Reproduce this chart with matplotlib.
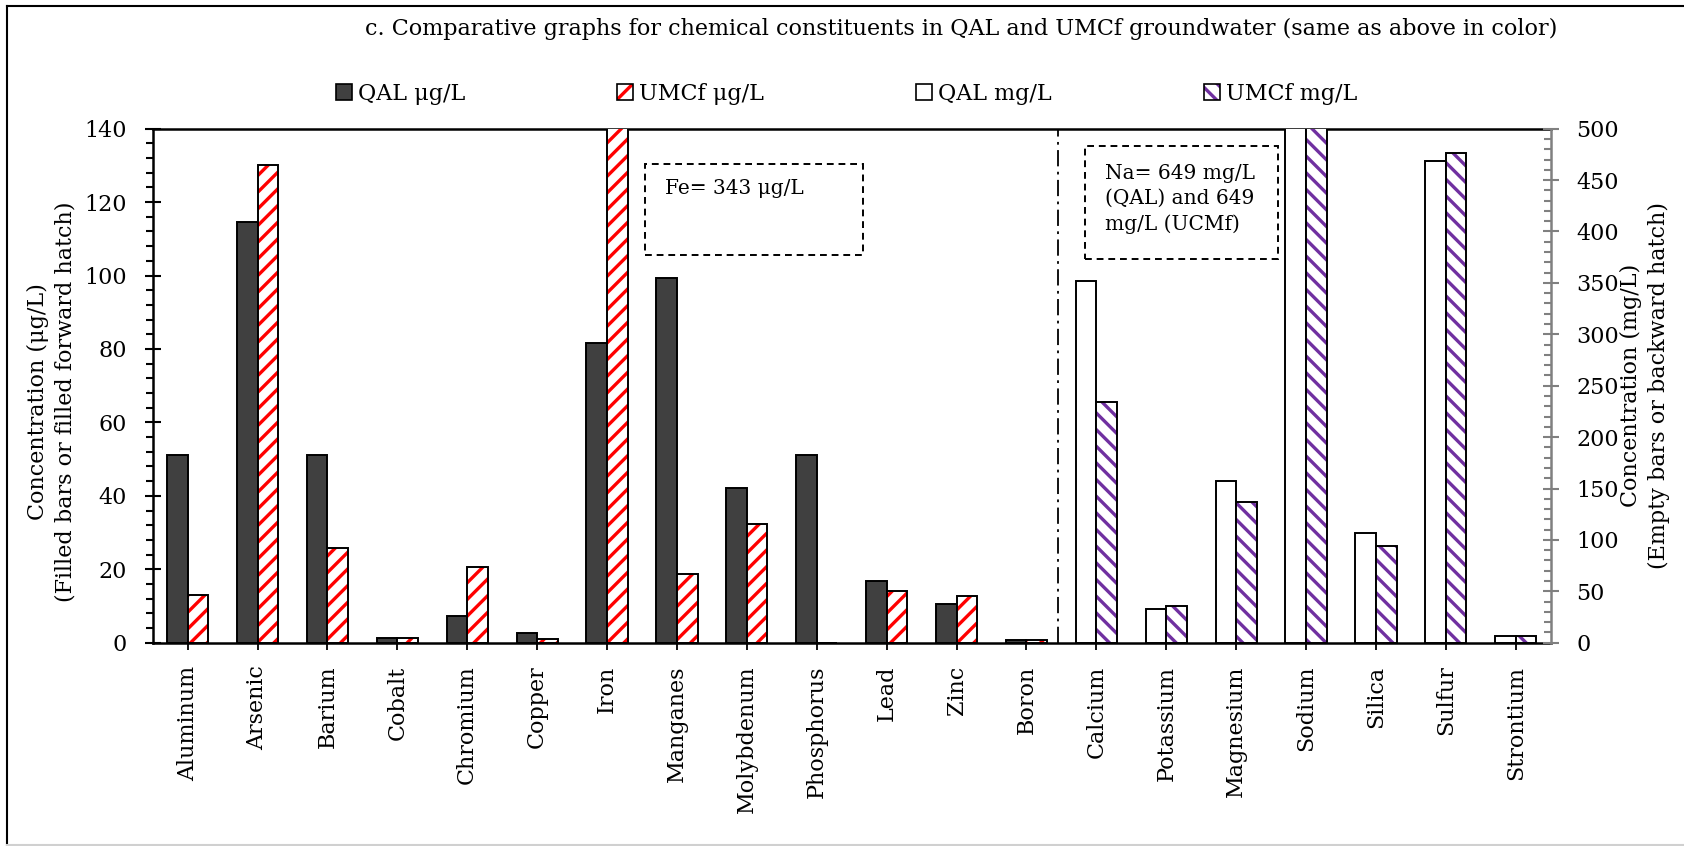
import matplotlib
matplotlib.use("Agg")
import matplotlib.pyplot as plt
import numpy as np
from matplotlib.patches import Patch, Rectangle
from matplotlib.lines import Line2D
from matplotlib.ticker import MultipleLocator
from matplotlib.legend_handler import HandlerTuple

# ---------------- data ----------------
categories_ug = ["Aluminum", "Arsenic", "Barium", "Cobalt", "Chromium", "Copper", "Iron",
                 "Manganes", "Molybdenum", "Phosphorus", "Lead", "Zinc", "Boron"]
qal_ug = [51.1, 114.5, 51.1, 1.4, 7.4, 2.7, 81.7, 99.3, 42.1, 51.1, 16.8, 10.5, 0.7]
umcf_ug = [12.9, 130.0, 25.9, 1.4, 20.7, 1.0, 343, 18.6, 32.4, 0, 14.0, 12.8, 0.6]

categories_mg = ["Calcium", "Potassium", "Magnesium", "Sodium", "Silica", "Sulfur", "Strontium"]
qal_mg = [351.5, 32.4, 156.9, 649, 106.7, 468.5, 6.8]
umcf_mg = [234.4, 35.3, 136.5, 649, 94.0, 476.7, 6.8]

legend_labels = ["QAL μg/L", "UMCf μg/L", "QAL mg/L", "UMCf mg/L"]
title = "c. Comparative graphs for chemical constituents in QAL and UMCf groundwater (same as above in color)"
left_label = "Concentration (μg/L)\n(Filled bars or filled forward hatch)"
right_label = "Concentration (mg/L)\n(Empty bars or backward hatch)"
fe_note = "Fe= 343 μg/L"
na_note = "Na= 649 mg/L\n(QAL) and 649\nmg/L (UCMf)"

# ---------------- style ----------------
plt.rcParams['font.family'] = ['DejaVu Serif']
plt.rcParams['hatch.linewidth'] = 2.4
W, H = 1684, 846
DARK = "#404040"
RED = "#FF0000"
PURPLE = "#7030A0"
GRAY = "#808080"
FS = 16

def fx(x):
    return x / W

def fy(y):
    return 1 - y / H

fig = plt.figure(figsize=(W / 100, H / 100), dpi=100)
ax = fig.add_axes([fx(152.7), fy(642.7), (1550.7 - 152.7) / W, (642.7 - 128.7) / H])
ax2 = ax.twinx()

n_left = len(categories_ug)
x_left = np.arange(n_left)
x_right = np.arange(len(categories_mg)) + n_left
bw = 0.295

# left group (μg/L)
ax.bar(x_left - bw / 2, qal_ug, bw, color=DARK, edgecolor="black", linewidth=1.4, zorder=3)
ax.bar(x_left + bw / 2, umcf_ug, bw, color="white", edgecolor=RED, hatch="//", linewidth=0, zorder=3)
ax.bar(x_left + bw / 2, umcf_ug, bw, fill=False, edgecolor="black", linewidth=1.4, zorder=4)

# right group (mg/L)
ax2.bar(x_right - bw / 2, qal_mg, bw, color="white", edgecolor="black", linewidth=1.4, zorder=3)
ax2.bar(x_right + bw / 2, umcf_mg, bw, color="white", edgecolor=PURPLE, hatch="\\\\", linewidth=0, zorder=3)
ax2.bar(x_right + bw / 2, umcf_mg, bw, fill=False, edgecolor="black", linewidth=1.4, zorder=4)

ax.set_xlim(-0.5, n_left + len(categories_mg) - 0.5)
ax.set_ylim(0, 140)
ax2.set_ylim(0, 500)

# separator
ax.axvline(n_left - 0.55, color="black", lw=1.3, linestyle=(0, (9, 3, 1.5, 3)), zorder=2)

# x ticks
ax.set_xticks(np.concatenate([x_left, x_right]))
ax.set_xticklabels(categories_ug + categories_mg, rotation=90, fontsize=FS)
ax.tick_params(axis="x", direction="out", length=5, width=1.3, pad=11.5, colors="black")

# left y
ax.yaxis.set_major_locator(MultipleLocator(20))
ax.yaxis.set_minor_locator(MultipleLocator(4))
ax.tick_params(axis="y", which="major", direction="inout", length=11, width=1.5, pad=13, labelsize=FS)
ax.tick_params(axis="y", which="minor", direction="out", length=5, width=1.5)

# right y
ax2.yaxis.set_major_locator(MultipleLocator(50))
ax2.yaxis.set_minor_locator(MultipleLocator(10))
ax2.tick_params(axis="y", which="major", direction="inout", length=11, width=1.5, pad=13,
                labelsize=FS, color=GRAY, labelcolor="black")
ax2.tick_params(axis="y", which="minor", direction="in", length=5, width=1.5, color=GRAY)

for s in ["left", "bottom", "top"]:
    ax.spines[s].set_linewidth(1.8)
    ax.spines[s].set_color("black")
ax.spines["right"].set_visible(False)
for s in ["left", "bottom", "top"]:
    ax2.spines[s].set_visible(False)
ax2.spines["right"].set_color(GRAY)
ax2.spines["right"].set_linewidth(1.8)

# axis labels
fig.text(fx(51.5), fy(401.6), left_label, rotation=90, ha="center", va="center",
         multialignment="center", fontsize=FS, linespacing=1.35)
fig.text(fx(1644.5), fy(385), right_label, rotation=90, ha="center", va="center",
         multialignment="center", fontsize=FS, linespacing=1.35)

# title
fig.text(fx(961.5), fy(29), title, ha="center", va="center", fontsize=16)

# legend
h1 = Patch(facecolor=DARK, edgecolor="black", linewidth=1.2)
h2 = (Patch(facecolor="white", edgecolor=RED, hatch="//", linewidth=0),
      Patch(fill=False, edgecolor="black", linewidth=1.2))
h3 = Patch(facecolor="white", edgecolor="black", linewidth=1.2)
h4 = (Patch(facecolor="white", edgecolor=PURPLE, hatch="\\\\", linewidth=0),
      Patch(fill=False, edgecolor="black", linewidth=1.2))
fpx = FS * 100 / 72
leg = ax.legend([h1, h2, h3, h4], legend_labels, loc="center left",
                bbox_to_anchor=(fx(336), fy(94)), bbox_transform=fig.transFigure,
                ncol=4, frameon=False, borderpad=0, borderaxespad=0,
                handlelength=16 / fpx, handleheight=16 / fpx, handletextpad=6 / fpx,
                columnspacing=152 / fpx, fontsize=FS,
                handler_map={tuple: HandlerTuple(ndivide=1, pad=0)})

# annotation boxes
fig.add_artist(Rectangle((fx(645), fy(255.3)), (862.7 - 645) / W, (255.3 - 164.3) / H,
                         transform=fig.transFigure, fill=False, edgecolor="black",
                         lw=1.4, linestyle=(0, (3.5, 2.5))))
fig.text(fx(665), fy(189), fe_note, ha="left", va="center", fontsize=14.5)
fig.add_artist(Rectangle((fx(1085), fy(258.7)), (1278 - 1085) / W, (258.7 - 146) / H,
                         transform=fig.transFigure, fill=False, edgecolor="black",
                         lw=1.4, linestyle=(0, (3.5, 2.5))))
fig.text(fx(1105), fy(198.7), na_note, ha="left", va="center", fontsize=14.5, linespacing=1.4)

# outer frame
fig.add_artist(Line2D([fx(6.5), fx(6.5)], [fy(6), fy(845)], transform=fig.transFigure, color="black", lw=1.5))
fig.add_artist(Line2D([fx(6.5), fx(1684)], [fy(6), fy(6)], transform=fig.transFigure, color="black", lw=1.5))
fig.add_artist(Line2D([fx(6.5), fx(1684)], [fy(845), fy(845)], transform=fig.transFigure, color="#d0d0d0", lw=1.5))

fig.savefig("out.png", dpi=100)
